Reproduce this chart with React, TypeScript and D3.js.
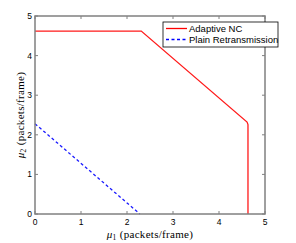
import { useEffect, useRef } from 'react'
import * as d3 from 'd3'

const ticks = [0, 1, 2, 3, 4, 5]
const adaptiveNC = [
  { x: 0, y: 4.62 },
  { x: 2.31, y: 4.62 },
  { x: 4.61, y: 2.32 },
  { x: 4.63, y: 2.26 },
  { x: 4.63, y: 0 },
]
const plainRetx = [
  { x: 0, y: 2.28 },
  { x: 2.28, y: 0 },
]
const legendItems = [
  { label: 'Adaptive NC', color: '#ff0000', dash: 'none' },
  { label: 'Plain Retransmission', color: '#0000ff', dash: '3,2.5' },
]

const App = () => {
  const svgRef = useRef<SVGSVGElement>(null)

  useEffect(() => {
    const svg = d3.select(svgRef.current)
    svg.selectAll('*').remove()

    const margin = { top: 16, left: 35, right: 31, bottom: 29 }
    const width = 296
    const height = 243
    const innerW = width - margin.left - margin.right
    const innerH = height - margin.top - margin.bottom

    const x = d3.scaleLinear().domain([0, 5]).range([0, innerW])
    const y = d3.scaleLinear().domain([0, 5]).range([innerH, 0])

    const g = svg.append('g').attr('transform', `translate(${margin.left},${margin.top})`)
    const axisColor = '#808080'

    // data lines
    const line = d3
      .line<{ x: number; y: number }>()
      .x((d) => x(d.x))
      .y((d) => y(d.y))

    g.append('path')
      .attr('d', line(plainRetx))
      .attr('fill', 'none')
      .attr('stroke', '#1a1aff')
      .attr('stroke-width', 1.3)
      .attr('stroke-dasharray', '3,2.5')

    g.append('path')
      .attr('d', line(adaptiveNC))
      .attr('fill', 'none')
      .attr('stroke', '#ff1a1a')
      .attr('stroke-width', 1.3)

    // ticks inward on all sides
    const tl = 3
    ticks.forEach((t) => {
      g.append('line').attr('x1', x(t)).attr('x2', x(t)).attr('y1', innerH).attr('y2', innerH - tl).attr('stroke', axisColor)
      g.append('line').attr('x1', x(t)).attr('x2', x(t)).attr('y1', 0).attr('y2', tl).attr('stroke', axisColor)
      g.append('line').attr('x1', 0).attr('x2', tl).attr('y1', y(t)).attr('y2', y(t)).attr('stroke', axisColor)
      g.append('line').attr('x1', innerW).attr('x2', innerW - tl).attr('y1', y(t)).attr('y2', y(t)).attr('stroke', axisColor)

      g.append('text')
        .attr('x', x(t))
        .attr('y', innerH + 11)
        .attr('text-anchor', 'middle')
        .attr('font-family', 'Liberation Sans, Arial, sans-serif')
        .attr('font-size', 8.5)
        .text(t)
      g.append('text')
        .attr('x', -3)
        .attr('y', y(t) + 3)
        .attr('text-anchor', 'end')
        .attr('font-family', 'Liberation Sans, Arial, sans-serif')
        .attr('font-size', 8.5)
        .text(t)
    })

    // box
    g.append('rect')
      .attr('width', innerW)
      .attr('height', innerH)
      .attr('fill', 'none')
      .attr('stroke', axisColor)
      .attr('stroke-width', 1.5)

    // axis labels
    const labelFont = 'Liberation Serif, Times New Roman, serif'
    const xl = svg
      .append('text')
      .attr('x', margin.left + innerW / 2)
      .attr('y', 237.5)
      .attr('text-anchor', 'middle')
      .attr('font-family', labelFont)
      .attr('font-size', 11)
      .attr('letter-spacing', 0.3)
    xl.append('tspan').attr('font-style', 'italic').text('μ')
    xl.append('tspan').attr('font-size', 7.5).attr('dy', 2).text('1')
    xl.append('tspan').attr('dy', -2).text(' (packets/frame)')

    const yl = svg
      .append('text')
      .attr('transform', `translate(24,${margin.top + innerH / 2}) rotate(-90)`)
      .attr('text-anchor', 'middle')
      .attr('font-family', labelFont)
      .attr('font-size', 11)
      .attr('letter-spacing', 0.3)
    yl.append('tspan').attr('font-style', 'italic').text('μ')
    yl.append('tspan').attr('font-size', 7.5).attr('dy', 2).text('2')
    yl.append('tspan').attr('dy', -2).text(' (packets/frame)')

    // legend
    const lg = svg.append('g').attr('transform', 'translate(163,22)')
    lg.append('rect')
      .attr('width', 115)
      .attr('height', 25)
      .attr('fill', 'white')
      .attr('stroke', '#000')
      .attr('stroke-width', 0.8)
    legendItems.forEach((d, i) => {
      const yy = 6.5 + i * 11
      lg.append('line')
        .attr('x1', 3)
        .attr('x2', 24)
        .attr('y1', yy)
        .attr('y2', yy)
        .attr('stroke', d.color)
        .attr('stroke-width', 1.3)
        .attr('stroke-dasharray', d.dash)
      lg.append('text')
        .attr('x', 26)
        .attr('y', yy + 3.5)
        .attr('font-family', 'Liberation Sans, Arial, sans-serif')
        .attr('font-size', 9.5)
        .text(d.label)
    })
  }, [])

  return <svg ref={svgRef} width={296} height={243} style={{ position: 'absolute', left: 0, top: 0 }}></svg>
}

export default App
